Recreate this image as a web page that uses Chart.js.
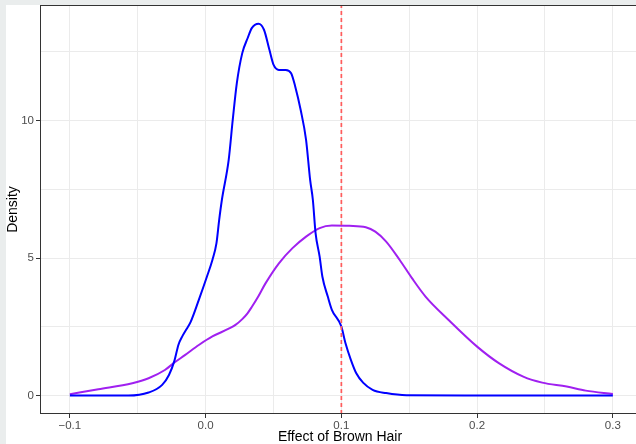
<!DOCTYPE html>
<html>
<head>
<meta charset="utf-8">
<script src="https://cdn.jsdelivr.net/npm/chart.js@4.4.1/dist/chart.umd.min.js"></script>
<style>
  body { margin: 0; background: #eaeded; overflow: hidden; }
  #wrap { position: absolute; left: 6px; top: 5px; width: 635px; height: 439px; background: #fff; }
</style>
</head>
<body>
<div id="wrap"><canvas id="densityChart" width="635" height="439"></canvas></div>
<script>
// density curves
const blueX = [-0.1, -0.057, -0.042, -0.032, -0.027, -0.023, -0.020, -0.017, -0.014, -0.011, -0.005, 0.001, 0.005, 0.008, 0.010, 0.012,
  0.017, 0.020, 0.023, 0.027, 0.031, 0.034, 0.039, 0.043, 0.047, 0.050, 0.054, 0.059, 0.063, 0.066, 0.070, 0.074, 0.077,
  0.079, 0.081, 0.084, 0.086, 0.090, 0.093, 0.100, 0.103, 0.107, 0.111, 0.116, 0.123, 0.133, 0.148, 0.2, 0.3];
const blueY = [0, 0, 0.11, 0.39, 0.75, 1.26, 1.85, 2.17, 2.42, 2.68, 3.48, 4.33, 4.93, 5.54, 6.39, 7.12,
  8.57, 10.03, 11.36, 12.45, 13.0, 13.36, 13.52, 13.3, 12.57, 12.03, 11.84, 11.84, 11.72, 11.24, 10.39, 9.3, 7.84,
  7.12, 5.91, 5.05, 4.33, 3.6, 3.12, 2.51, 1.91, 1.3, 0.81, 0.47, 0.21, 0.09, 0.01, 0, 0];

const purpleX = [-0.1, -0.079, -0.054, -0.042, -0.030, -0.023, -0.015, -0.005, 0.005, 0.017, 0.022, 0.027, 0.031, 0.034,
  0.039, 0.044, 0.054, 0.064, 0.074, 0.084, 0.093, 0.106, 0.118, 0.125, 0.133, 0.143, 0.152, 0.162, 0.179, 0.200,
  0.216, 0.234, 0.248, 0.266, 0.280, 0.3];
const purpleY = [0.05, 0.23, 0.45, 0.63, 0.93, 1.2, 1.48, 1.84, 2.15, 2.43, 2.57, 2.78, 3.0, 3.22,
  3.62, 4.07, 4.81, 5.36, 5.78, 6.09, 6.18, 6.17, 6.12, 5.96, 5.6, 4.93, 4.27, 3.6, 2.75, 1.78,
  1.18, 0.69, 0.47, 0.33, 0.18, 0.06];

const vlineX = 0.1;
const xTicks = [-0.1, -0.05, 0, 0.05, 0.1, 0.15, 0.2, 0.25, 0.3];
const yTicks = [0, 2.5, 5, 7.5, 10, 12.5];
const xRange = [-0.122, 0.32];
const yRange = [-0.67, 14.2];

const toPoints = (xs, ys) => xs.map((x, i) => ({ x: x, y: ys[i] }));
const isMajor = (v, step) => Math.abs(v / step - Math.round(v / step)) < 1e-6;
const FONT = "'Liberation Sans', Arial, sans-serif";

// ggplot style full panel border
const panelBorder = {
  id: 'panelBorder',
  afterDraw(chart) {
    const { ctx, chartArea: a } = chart;
    ctx.save();
    ctx.strokeStyle = '#333333';
    ctx.lineWidth = 1;
    ctx.strokeRect(Math.floor(a.left) + 0.5, Math.floor(a.top) + 0.5,
      Math.round(a.right - a.left), Math.round(a.bottom - a.top) - 1);
    ctx.restore();
  }
};

const ctx = document.getElementById('densityChart').getContext('2d');
new Chart(ctx, {
  type: 'line',
  data: {
    datasets: [
      {
        data: [{ x: vlineX, y: yRange[0] }, { x: vlineX, y: yRange[1] }],
        borderColor: '#ff5c5c',
        borderWidth: 1.7,
        borderDash: [4, 3],
        pointRadius: 0
      },
      {
        data: toPoints(blueX, blueY),
        borderColor: '#0000ff',
        borderWidth: 2,
        pointRadius: 0,
        cubicInterpolationMode: 'monotone'
      },
      {
        data: toPoints(purpleX, purpleY),
        borderColor: '#a020f0',
        borderWidth: 2,
        pointRadius: 0,
        cubicInterpolationMode: 'monotone'
      }
    ]
  },
  options: {
    responsive: false,
    animation: false,
    layout: { padding: { left: 0, right: 1, top: 0, bottom: 0 } },
    plugins: { legend: { display: false }, tooltip: { enabled: false } },
    scales: {
      x: {
        type: 'linear',
        min: xRange[0],
        max: xRange[1],
        afterBuildTicks: s => { s.ticks = xTicks.map(v => ({ value: v })); },
        afterFit: s => { s.height = 30; s.paddingLeft = 0; s.paddingRight = 0; },
        grid: {
          color: '#ebebeb',
          lineWidth: 1,
          tickLength: 4,
          tickColor: c => isMajor(c.tick.value, 0.1) ? '#333333' : 'rgba(0,0,0,0)'
        },
        border: { display: false },
        ticks: {
          autoSkip: false,
          maxRotation: 0,
          padding: 1,
          color: '#4d4d4d',
          font: { family: FONT, size: 11.5 },
          callback: v => isMajor(v, 0.1) ? v.toFixed(1).replace('-', '\u2212') : ''
        },
        title: {
          display: true,
          text: 'Effect of Brown Hair',
          color: '#000',
          padding: 0,
          font: { family: FONT, size: 14, lineHeight: 1 }
        }
      },
      y: {
        min: yRange[0],
        max: yRange[1],
        afterBuildTicks: s => { s.ticks = yTicks.map(v => ({ value: v })); },
        afterFit: s => { s.width = 34; s.paddingTop = 0; s.paddingBottom = 0; },
        grid: {
          color: '#ebebeb',
          lineWidth: 1,
          tickLength: 4,
          tickColor: c => isMajor(c.tick.value, 5) ? '#333333' : 'rgba(0,0,0,0)'
        },
        border: { display: false },
        ticks: {
          padding: 2,
          color: '#4d4d4d',
          font: { family: FONT, size: 11.5 },
          callback: v => isMajor(v, 5) ? String(v) : ''
        },
        title: {
          display: true,
          text: 'Density',
          color: '#000',
          padding: 0,
          font: { family: FONT, size: 14, lineHeight: 1 }
        }
      }
    }
  },
  plugins: [panelBorder]
});
</script>
</body>
</html>
